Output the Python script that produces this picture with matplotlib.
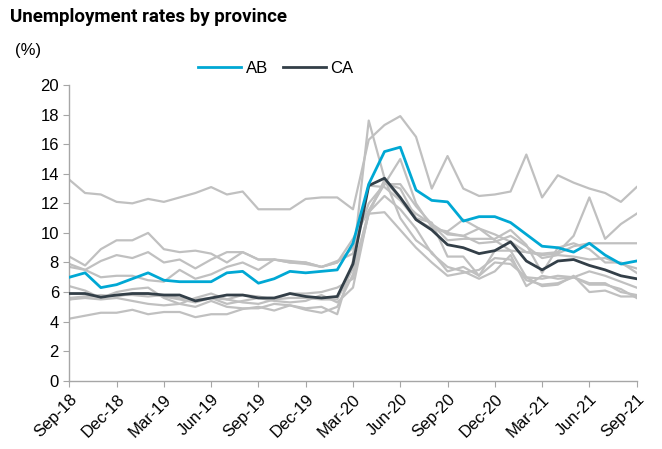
import numpy as np
import matplotlib.pyplot as plt

plt.rcParams['font.family'] = ['Liberation Sans', 'DejaVu Sans']

# monthly rates, Sep-18 .. Sep-21 (37 months)
months = ['Sep-18', 'Oct-18', 'Nov-18', 'Dec-18', 'Jan-19', 'Feb-19', 'Mar-19', 'Apr-19',
          'May-19', 'Jun-19', 'Jul-19', 'Aug-19', 'Sep-19', 'Oct-19', 'Nov-19', 'Dec-19',
          'Jan-20', 'Feb-20', 'Mar-20', 'Apr-20', 'May-20', 'Jun-20', 'Jul-20', 'Aug-20',
          'Sep-20', 'Oct-20', 'Nov-20', 'Dec-20', 'Jan-21', 'Feb-21', 'Mar-21', 'Apr-21',
          'May-21', 'Jun-21', 'Jul-21', 'Aug-21', 'Sep-21']

ab = [7.0, 7.3, 6.3, 6.5, 6.9, 7.3, 6.8, 6.7, 6.7, 6.7, 7.3, 7.4, 6.6, 6.9, 7.4, 7.3, 7.4, 7.5,
      9.3, 13.3, 15.5, 15.8, 12.9, 12.2, 12.1, 10.8, 11.1, 11.1, 10.7, 9.9, 9.1, 9.0, 8.7, 9.3,
      8.5, 7.9, 8.1]
ca = [5.9, 5.9, 5.65, 5.8, 5.9, 5.9, 5.8, 5.8, 5.4, 5.6, 5.8, 5.8, 5.6, 5.6, 5.9, 5.7, 5.6, 5.7,
      7.9, 13.2, 13.7, 12.4, 10.9, 10.2, 9.2, 9.0, 8.6, 8.8, 9.4, 8.1, 7.5, 8.1, 8.2, 7.8,
      7.5, 7.1, 6.9]

# other provinces
nl = [13.6, 12.7, 12.6, 12.1, 12.0, 12.3, 12.1, 12.4, 12.7, 13.1, 12.6, 12.8, 11.6, 11.6, 11.6,
      12.3, 12.4, 12.4, 11.6, 16.3, 17.3, 17.9, 16.5, 13.0, 15.2, 13.0, 12.5, 12.6, 12.8, 15.3,
      12.4, 13.9, 13.4, 13.0, 12.7, 12.1, 13.1]
pe = [8.4, 7.8, 8.9, 9.5, 9.5, 10.0, 8.9, 8.7, 8.8, 8.6, 8.0, 8.7, 8.2, 8.2, 8.0, 8.0, 7.7, 8.0,
      9.6, 11.5, 13.3, 15.0, 12.0, 10.4, 10.0, 9.8, 10.3, 9.5, 8.8, 8.7, 8.6, 8.7, 9.8, 12.4,
      9.6, 10.6, 11.3]
ns = [7.9, 7.5, 8.1, 8.5, 8.3, 8.7, 8.0, 8.2, 7.6, 8.2, 8.7, 8.7, 8.2, 8.2, 8.0, 7.9, 7.7, 8.0,
      9.0, 12.0, 13.3, 13.3, 11.8, 10.6, 9.9, 9.8, 9.3, 9.4, 9.8, 9.1, 8.3, 8.5, 8.4, 8.2, 8.3,
      7.9, 7.6]
nb = [7.7, 7.5, 7.0, 7.1, 7.1, 6.8, 6.7, 7.5, 6.9, 7.2, 7.7, 8.0, 7.5, 8.2, 8.1, 8.0, 7.7, 8.1,
      8.6, 13.2, 13.1, 12.2, 10.9, 10.3, 10.1, 10.9, 10.3, 9.9, 9.4, 8.7, 8.5, 8.6, 9.1, 9.3,
      9.3, 9.3, 9.3]
qc = [5.5, 5.6, 5.5, 5.6, 5.4, 5.2, 5.1, 5.2, 5.0, 5.4, 5.0, 4.9, 4.9, 5.2, 5.1, 4.9, 5.0, 4.5,
      8.1, 17.6, 13.7, 11.0, 9.5, 8.7, 7.4, 7.7, 7.1, 8.8, 8.8, 7.0, 6.4, 6.5, 7.1, 6.0, 6.1,
      5.7, 5.7]
on = [5.6, 5.7, 5.7, 5.8, 5.8, 5.7, 5.8, 5.6, 5.5, 5.6, 5.5, 5.8, 5.7, 5.5, 5.6, 5.6, 5.5, 5.5,
      7.6, 11.3, 13.6, 12.3, 11.3, 10.6, 9.5, 9.6, 9.6, 9.6, 10.2, 9.2, 7.3, 9.0, 9.3, 8.9, 8.0,
      8.0, 7.3]
mb = [6.4, 6.1, 5.6, 6.0, 6.2, 6.3, 5.6, 5.2, 5.6, 5.9, 5.5, 5.3, 5.2, 5.5, 5.9, 5.9, 6.0, 6.3,
      6.9, 11.3, 11.4, 10.2, 9.0, 8.0, 7.1, 7.3, 7.5, 8.3, 8.2, 6.8, 6.5, 6.6, 7.0, 7.4, 7.1,
      6.7, 6.3]
sk = [5.5, 5.7, 5.8, 5.7, 5.9, 5.9, 5.7, 5.5, 5.3, 5.6, 5.2, 5.4, 5.6, 5.4, 5.3, 5.4, 5.8, 5.3,
      6.3, 11.4, 12.5, 11.6, 10.3, 8.6, 7.7, 7.4, 6.9, 7.4, 8.5, 6.4, 7.1, 6.9, 7.0, 6.5, 6.5,
      6.2, 5.6]
bc = [4.2, 4.4, 4.6, 4.6, 4.8, 4.5, 4.65, 4.65, 4.3, 4.5, 4.5, 4.85, 5.0, 4.75, 5.1, 4.8, 4.6,
      5.0, 7.2, 11.5, 13.4, 13.0, 11.0, 10.7, 8.4, 8.4, 7.1, 8.0, 7.9, 7.0, 6.9, 7.1, 7.0, 6.6,
      6.6, 6.0, 5.8]

others = [nl, pe, ns, nb, qc, on, mb, sk, bc]

x = np.arange(len(months))

fig = plt.figure(figsize=(6.62, 4.49), dpi=100)
ax = fig.add_axes([0.1047, 0.152, 0.857, 0.6585])

for s in others:
    ax.plot(x, s, color='#c0c0c0', lw=1.6, zorder=1)
ax.plot(x, ca, color='#333f48', lw=2.0, label='CA', zorder=3)
ax.plot(x, ab, color='#00a8d4', lw=2.0, label='AB', zorder=4)

ax.set_xlim(0, 36)
ax.set_ylim(0, 20)
ax.set_yticks(np.arange(0, 21, 2))
ax.set_xticks(x[::3])
ax.set_xticklabels(months[::3], rotation=45, ha='right', rotation_mode='anchor')

for side in ['top', 'right']:
    ax.spines[side].set_visible(False)
for side in ['left', 'bottom']:
    ax.spines[side].set_color('#a6a6a6')
    ax.spines[side].set_linewidth(1.0)
ax.tick_params(axis='both', colors='#a6a6a6', labelcolor='black', labelsize=12, length=4)
ax.tick_params(axis='x', pad=4)

h, l = ax.get_legend_handles_labels()
ax.legend(h[::-1], l[::-1], loc='center', bbox_to_anchor=(0.364, 1.057), ncol=2, frameon=False,
          fontsize=12, handlelength=2.6, columnspacing=0.9, handletextpad=0.25)

fig.text(0.015, 0.962, 'Unemployment rates by province', fontsize=13.5, fontweight='bold',
         family=['Roboto', 'Liberation Sans'], va='center', ha='left')
fig.text(0.022, 0.888, '(%)', fontsize=12, va='center', ha='left')

fig.savefig('out.png', dpi=100)
